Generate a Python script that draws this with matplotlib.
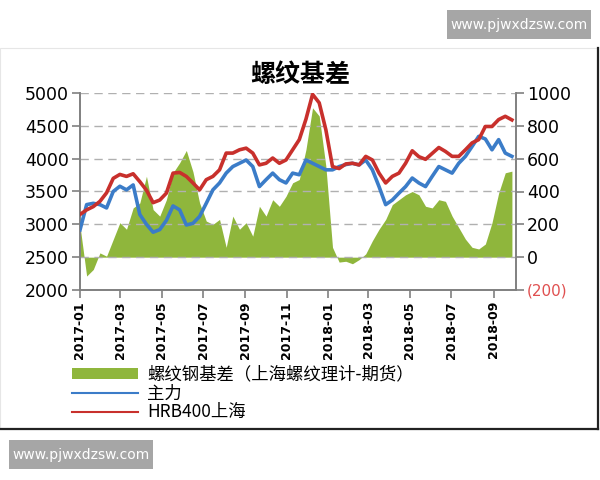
import numpy as np
import pandas as pd
import matplotlib
matplotlib.use("Agg")
import matplotlib.pyplot as plt
from matplotlib.patches import Rectangle
from matplotlib.lines import Line2D

plt.rcParams['font.family'] = ['DejaVu Sans', 'Noto Sans CJK SC']
plt.rcParams['axes.unicode_minus'] = False

# roughly every 10 days from 2017-01-01 to 2018-09-28
dates = pd.date_range('2017-01-01', '2018-09-28', periods=66)

# HRB400 上海 spot price (left axis)
hrb400 = [3150, 3220, 3270, 3350, 3480, 3700, 3760, 3730, 3770, 3650,
          3520, 3330, 3370, 3475, 3780, 3790, 3730, 3630, 3525, 3680,
          3730, 3830, 4085, 4085, 4135, 4160, 4085, 3905, 3930, 4010,
          3930, 3980, 4135, 4290, 4600, 4980, 4850, 4440, 3880, 3850,
          3920, 3930, 3905, 4035, 3980, 3780, 3630, 3730, 3780, 3930,
          4120, 4030, 3990, 4080, 4170, 4110, 4035, 4035, 4135, 4240,
          4290, 4490, 4490, 4595, 4645, 4590]

# 主力 futures price (left axis)
main_contract = [2915, 3300, 3320, 3300, 3250, 3500, 3580, 3525, 3600, 3150,
                 3000, 2880, 2920, 3060, 3280, 3220, 2990, 3015, 3120, 3320,
                 3525, 3630, 3780, 3880, 3930, 3980, 3880, 3575, 3680, 3780,
                 3680, 3630, 3780, 3755, 3980, 3930, 3880, 3830, 3830, 3880,
                 3910, 3930, 3905, 3980, 3830, 3575, 3300, 3370, 3475, 3575,
                 3705, 3630, 3575, 3730, 3880, 3830, 3780, 3930, 4035, 4185,
                 4340, 4300, 4135, 4290, 4085, 4035]

# basis (right axis)
basis = [190, -115, -75, 26, 6, 108, 210, 170, 300, 330,
         493, 290, 250, 350, 514, 575, 650, 520, 330, 220,
         200, 230, 60, 250, 170, 210, 128, 310, 250, 350,
         310, 371, 453, 473, 655, 910, 860, 554, 60, -30,
         -25, -40, -15, 20, 100, 170, 230, 320, 350, 380,
         400, 380, 310, 300, 350, 340, 250, 180, 110, 60,
         50, 80, 210, 390, 514, 524]

tick_dates = pd.date_range('2017-01-01', '2018-09-01', freq='2MS')
left_ticks = [2000, 2500, 3000, 3500, 4000, 4500, 5000]
right_ticks = [-200, 0, 200, 400, 600, 800, 1000]
right_labels = ['(200)', '0', '200', '400', '600', '800', '1000']

green = '#8fb63c'
blue = '#3b7cc8'
red = '#c8302c'
axis_grey = '#808080'

fig = plt.figure(figsize=(6, 4.8), dpi=100)

# chart panel frame
fig.patches.append(Rectangle((0, 1 - 429 / 480), 598 / 600, (429 - 48) / 480,
                             transform=fig.transFigure, facecolor='white',
                             edgecolor='#e6e6e6', linewidth=0.8, zorder=-10))
fig.add_artist(Line2D([0, 598 / 600], [1 - 429 / 480] * 2, transform=fig.transFigure,
                      color='#222222', linewidth=1.6))
fig.add_artist(Line2D([598 / 600] * 2, [1 - 429 / 480, 1 - 48 / 480], transform=fig.transFigure,
                      color='#222222', linewidth=1.6))

ax = fig.add_axes([80 / 600, 1 - 290 / 480, 436 / 600, 197 / 480])
ax2 = ax.twinx()

ax2.fill_between(dates, 0, basis, color=green, linewidth=0, zorder=1)
ax.plot(dates, main_contract, color=blue, linewidth=2.6, zorder=3)
ax.plot(dates, hrb400, color=red, linewidth=2.6, zorder=4)
ax.set_zorder(ax2.get_zorder() + 1)
ax.patch.set_visible(False)

ax.set_ylim(2000, 5000)
ax2.set_ylim(-200, 1000)
ax.set_xlim(pd.Timestamp('2017-01-01'), pd.Timestamp('2018-10-04'))

ax.set_yticks(left_ticks)
ax.set_yticklabels([str(v) for v in left_ticks], fontsize=12.5)
ax2.set_yticks(right_ticks)
ax2.set_yticklabels(right_labels, fontsize=12.5)
ax2.get_yticklabels()[0].set_color('#e05050')
ax2.get_yticklabels()[0].set_fontsize(11)

ax.set_xticks(tick_dates)
ax.set_xticklabels([d.strftime('%Y-%m') for d in tick_dates], rotation=90,
                   fontsize=9, fontweight='bold')

for v in left_ticks[1:]:
    ax.axhline(v, color='#b0b0b0', linestyle=(0, (6, 4)), linewidth=1.0, zorder=0)

for a in (ax, ax2):
    a.spines['top'].set_visible(False)
    for s in ('left', 'right', 'bottom'):
        a.spines[s].set_color(axis_grey)
        a.spines[s].set_linewidth(1.2)
    a.tick_params(axis='both', direction='out', length=6, color=axis_grey, width=1.2, pad=2)

fig.text(300 / 600, 1 - 75 / 480, '螺纹基差', ha='center', va='center',
         fontsize=18, fontweight='bold', family=['Noto Sans CJK SC'])

handles = [Rectangle((0, 0), 1, 1, facecolor=green, edgecolor='none'),
           Line2D([], [], color=blue, linewidth=1.5),
           Line2D([], [], color=red, linewidth=1.5)]
labels = ['螺纹钢基差（上海螺纹理计-期货）', '主力', 'HRB400上海']
fig.legend(handles, labels, loc='upper left', bbox_to_anchor=(63 / 600, 1 - 357 / 480),
           frameon=False, handlelength=3.8, handleheight=0.6,
           labelspacing=0.05, borderpad=0, handletextpad=0.55,
           prop={'family': ['Noto Sans CJK SC', 'DejaVu Sans'], 'size': 12.5})

# watermarks
for (x0, y0) in [(447, 10), (9, 440)]:
    fig.patches.append(Rectangle((x0 / 600, 1 - (y0 + 29) / 480), 144 / 600, 29 / 480,
                                 transform=fig.transFigure, facecolor='#a6a6a6',
                                 edgecolor='none', zorder=5))
    fig.text((x0 + 72) / 600, 1 - (y0 + 14.5) / 480, 'www.pjwxdzsw.com', ha='center',
             va='center', color='white', fontsize=10, family=['DejaVu Sans'], zorder=6)

fig.savefig('out.png', dpi=100)
